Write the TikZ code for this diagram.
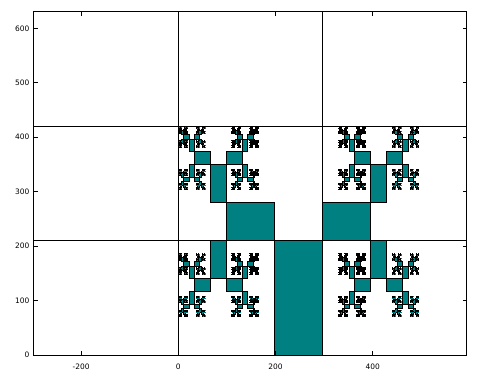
\documentclass[tikz,border=0pt]{standalone}
\usepackage{fontspec}
\setmainfont{DejaVu Sans}
\usetikzlibrary{positioning}
\definecolor{tealfill}{HTML}{008080}
\tikzset{cell/.style={draw=black, fill=tealfill, line width=0.95bp},
sheet/.style={draw=black, line width=1bp},
frame/.style={draw=black, line width=1bp},
axtick/.style={draw=black, line width=0.8bp},
ticklabel/.style={inner sep=0pt, font=\fontsize{7.5}{9}\selectfont}
}

\newcommand{\sprout}[6]{%
  \draw[cell] (#1,#3) rectangle (#2,#4);%
  \let\spnext\relax
  \ifnum#6>1
    \ifnum#5<2
      \pgfmathsetmacro\spw{#2-#1}%
      \pgfmathsetmacro\sph{(#4-#3)/3}%
      \ifnum#5=0
        \pgfmathsetmacro\spylo{#4}\pgfmathsetmacro\spyhi{#4+\sph}%
      \else
        \pgfmathsetmacro\spylo{#3-\sph}\pgfmathsetmacro\spyhi{#3}%
      \fi
      \pgfmathsetmacro\spxl{#1-\spw}\pgfmathsetmacro\spxr{#2+\spw}%
      \edef\spnext{{\noexpand\sprout{\spxl}{#1}{\spylo}{\spyhi}{2}{\the\numexpr#6-1\relax}}%
        {\noexpand\sprout{#2}{\spxr}{\spylo}{\spyhi}{3}{\the\numexpr#6-1\relax}}}%
    \else
      \pgfmathsetmacro\spw{(#2-#1)/3}%
      \pgfmathsetmacro\sph{#4-#3}%
      \ifnum#5=2
        \pgfmathsetmacro\spxlo{#1-\spw}\pgfmathsetmacro\spxhi{#1}%
      \else
        \pgfmathsetmacro\spxlo{#2}\pgfmathsetmacro\spxhi{#2+\spw}%
      \fi
      \pgfmathsetmacro\spyb{#3-\sph}\pgfmathsetmacro\spyt{#4+\sph}%
      \edef\spnext{{\noexpand\sprout{\spxlo}{\spxhi}{#4}{\spyt}{0}{\the\numexpr#6-1\relax}}%
        {\noexpand\sprout{\spxlo}{\spxhi}{\spyb}{#3}{1}{\the\numexpr#6-1\relax}}}%
    \fi
  \fi
  \spnext}

\begin{document}
\begin{tikzpicture}[x=0.486bp, y=0.5445bp]
\useasboundingbox (-366.9,-53.3) rectangle (629.0,652.0);

\sprout{198}{297}{0}{210}{0}{12}

\draw[sheet] (0,0) -- (0,630);
\draw[sheet] (297,0) -- (297,630);
\draw[sheet] (-297,210) -- (594,210);
\draw[sheet] (-297,420) -- (594,420);

\draw[frame] (-297,0) rectangle (594,630);
\foreach \v [count=\i] in {-200,0,200,400} {
  \draw[axtick] (\v,0) -- ++(0,4bp);
  \draw[axtick] (\v,630) -- ++(0,-4bp);
  \node[ticklabel, anchor=north, yshift=-9bp] (X \i) at (\v,0) {\v};
}
\foreach \v [count=\i] in {0,100,...,600} {
  \draw[axtick] (-297,\v) -- ++(4bp,0);
  \draw[axtick] (594,\v) -- ++(-4bp,0);
  \node[ticklabel, anchor=east, xshift=-4.5bp] (Y \i) at (-297,\v) {\v};
}
\end{tikzpicture}
\end{document}
